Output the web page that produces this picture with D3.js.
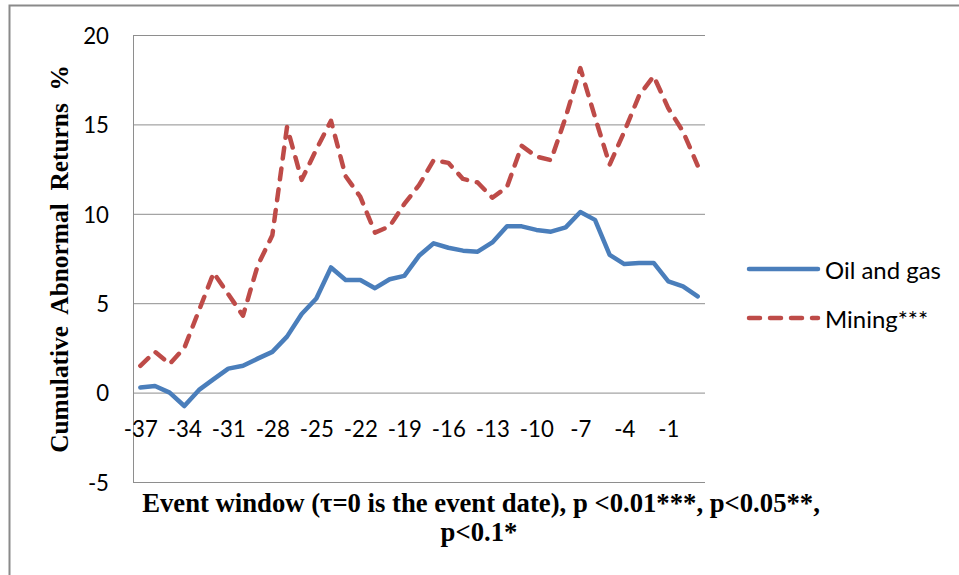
<!DOCTYPE html>
<html>
<head>
<meta charset="utf-8">
<script src="https://cdn.jsdelivr.net/npm/d3@7/dist/d3.min.js"></script>
<style>
  html, body { margin: 0; padding: 0; background: #fff; }
  svg { display: block; }
</style>
</head>
<body>
<svg id="chart" width="959" height="575"></svg>
<script>
// ---- data ----
const days = [-37,-36,-35,-34,-33,-32,-31,-30,-29,-28,-27,-26,-25,-24,-23,-22,-21,-20,-19,-18,
              -17,-16,-15,-14,-13,-12,-11,-10,-9,-8,-7,-6,-5,-4,-3,-2,-1,0,1];
const xTickLabels = [-37,-34,-31,-28,-25,-22,-19,-16,-13,-10,-7,-4,-1];
const yTickValues = [-5,0,5,10,15,20];
const oilGas = [0.28,0.37,0.0,-0.75,0.15,0.75,1.34,1.5,1.9,2.28,3.13,4.4,5.26,7.0,6.3,6.3,5.84,6.34,6.53,7.65,
                8.35,8.1,7.94,7.88,8.4,9.3,9.3,9.1,9.0,9.24,10.1,9.66,7.7,7.19,7.25,7.25,6.22,5.94,5.38];
const mining = [1.5,2.28,1.6,2.5,4.6,6.7,5.5,4.3,7.1,8.8,14.85,11.9,13.6,15.2,12.1,10.95,8.95,9.3,10.55,11.6,
                13.0,12.85,11.95,11.75,10.9,11.5,13.8,13.2,13.0,15.4,18.15,15.4,12.75,14.6,16.6,17.7,15.9,14.6,12.7];
const seriesNames = ["Oil and gas", "Mining***"];
const yTitle = "Cumulative  Abnormal  Returns  %";
const xTitle1 = "Event window (\u03C4=0 is the event date), p <0.01***, p<0.05**,";
const xTitle2 = "p<0.1*";

(function () {
// ---- layout ----
const svg = d3.select("#chart");
const pLeft = 133, pRight = 705, pTop = 35, pBottom = 482;
const gridColor = "#8e8e8e";
const blue = "#4A7EBB", red = "#BE4B48";
const sans = "Lato, 'Open Sans', sans-serif";
const serif = "'Liberation Serif', 'Times New Roman', serif";
const lw = 4.5, dash = "11,10";

function fitSize(text, family, weight, target, base) {
  const t = svg.append("text").attr("font-family", family).attr("font-weight", weight)
    .attr("font-size", base).style("white-space", "pre").text(text);
  const w = t.node().getComputedTextLength();
  t.remove();
  return base * target / w;
}

const tickSize = fitSize("-37", sans, "normal", 34, 20);
const legendSize = fitSize("Oil and gas", sans, "normal", 116, 20);
const yTitleSize = fitSize(yTitle, serif, "bold", 388, 20);
const xTitleSize = fitSize(xTitle1, serif, "bold", 678, 20);

// outer frame
svg.append("path").attr("d", "M9.5,575V5.5H959")
  .attr("fill", "none").attr("stroke", "#8a8a8a").attr("stroke-width", 2);

const x = d3.scalePoint().domain(days).range([pLeft, pRight]).padding(0.5);
const y = d3.scaleLinear().domain([-5, 20]).range([pBottom, pTop]);

// gridlines
const grid = svg.append("g").attr("transform", `translate(${pLeft},0)`)
  .call(d3.axisLeft(y).tickValues(yTickValues).tickSize(-(pRight - pLeft)).tickFormat(""));
grid.select(".domain").remove();
grid.selectAll("line").attr("stroke", gridColor).attr("stroke-width", 1);

// y axis line
svg.append("line").attr("x1", pLeft + 0.5).attr("x2", pLeft + 0.5).attr("y1", pTop).attr("y2", pBottom + 0.5)
  .attr("stroke", gridColor).attr("stroke-width", 1);

// y tick labels
const yAxis = svg.append("g").attr("transform", `translate(${pLeft},0)`)
  .call(d3.axisLeft(y).tickValues(yTickValues).tickSize(0).tickPadding(24).tickFormat(d => String(d)));
yAxis.select(".domain").remove();
yAxis.selectAll("text").attr("font-family", sans).attr("font-size", tickSize)
  .attr("fill", "#000").attr("dy", "0.37em");

// x axis (category axis crossing at 0)
const xAxis = svg.append("g").attr("transform", `translate(0,${y(0)})`)
  .call(d3.axisBottom(x).tickValues(xTickLabels).tickSize(0).tickFormat(d => String(d)));
xAxis.select(".domain").remove();
xAxis.selectAll("text").attr("font-family", sans).attr("font-size", tickSize)
  .attr("fill", "#000").attr("dy", null).attr("y", 437 - y(0));

// lines
const line = d3.line().x((d, i) => x(days[i])).y(d => y(d));
svg.append("path").datum(oilGas).attr("d", line)
  .attr("fill", "none").attr("stroke", blue).attr("stroke-width", lw)
  .attr("stroke-linejoin", "round").attr("stroke-linecap", "round");
svg.append("path").datum(mining).attr("d", line)
  .attr("fill", "none").attr("stroke", red).attr("stroke-width", lw)
  .attr("stroke-linejoin", "round").attr("stroke-linecap", "round")
  .attr("stroke-dasharray", dash);

// legend
const legY = [269, 318];
const legColors = [blue, red];
const legDash = [null, dash];
seriesNames.forEach((name, i) => {
  svg.append("line").attr("x1", 749).attr("x2", 818).attr("y1", legY[i]).attr("y2", legY[i])
    .attr("stroke", legColors[i]).attr("stroke-width", lw).attr("stroke-linecap", "round")
    .attr("stroke-dasharray", legDash[i]);
  svg.append("text").attr("x", 825).attr("y", legY[i] + 10)
    .attr("font-family", sans).attr("font-size", legendSize).attr("fill", "#000").text(name);
});

// axis titles
svg.append("text").attr("transform", "translate(68,259) rotate(-90)")
  .attr("text-anchor", "middle").attr("font-family", serif).attr("font-weight", "bold")
  .attr("font-size", yTitleSize).style("white-space", "pre").attr("fill", "#000").text(yTitle);
svg.append("text").attr("x", 481).attr("y", 511.5)
  .attr("text-anchor", "middle").attr("font-family", serif).attr("font-weight", "bold")
  .attr("font-size", xTitleSize).attr("fill", "#000").text(xTitle1);
svg.append("text").attr("x", 479).attr("y", 541)
  .attr("text-anchor", "middle").attr("font-family", serif).attr("font-weight", "bold")
  .attr("font-size", xTitleSize).attr("fill", "#000").text(xTitle2);
})();
</script>
</body>
</html>
